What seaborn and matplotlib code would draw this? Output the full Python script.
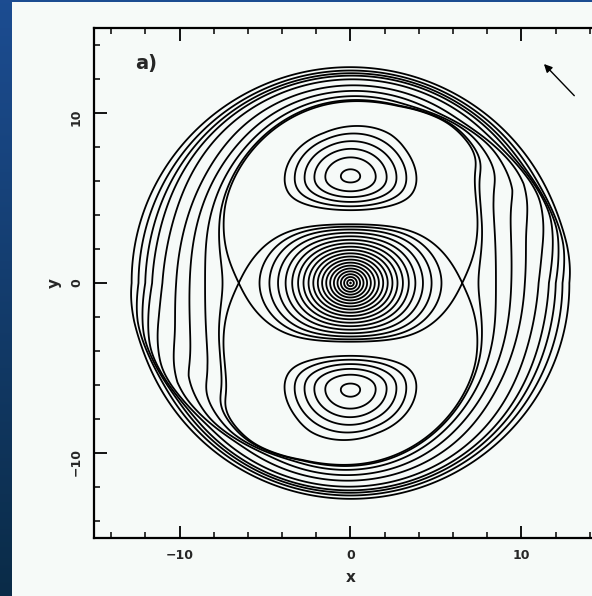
import numpy as np
import matplotlib
matplotlib.use("Agg")
import matplotlib.pyplot as plt
import seaborn as sns
from matplotlib.patches import Rectangle

# model of the plotted field (effective potential of a rotating bar)
corotation_radius = 6.6
inner_scale = 1.2
outer_scale = 1.75
bar_amplitude = 2.6
bar_core = 2.0
twist_radii = [8.5, 11.0]
twist_angle = -10.0
fade_radii = [10.5, 13.5]
fade_amount = 1.3
lobe_center = 6.1
lobe_height = 10.0
lobe_sigma = [2.4, 1.6, 2.0]   # along x, towards centre, away from centre

# dense spiral band (upper right, repeated lower left)
band_angles = [0, 10, 40, 75, 95]
band_radii = [13.0, 12.8, 11.8, 10.7, 10.4]
band_env_angles = [0, 30, 70, 100, 180]
band_env = [0, 1, 1, 0, 0]
band_step = 2.3
band_ramp = 1.5

# contour levels
lens_levels = [-30.0, -28.5, -27.0, -25.5, -24.0, -22.5, -21.0, -19.5, -18.0, -16.5,
               -15.0, -13.5, -12.0, -10.5, -9.0, -7.5, -6.0, -4.6, -3.4]
lobe_offsets = [0.3, 1.9, 3.6, 5.3, 7.0, 8.6]
outer_levels = [-12.26, -11.21, -10.36, -9.6, -8.46, -6.64, -5.04, -3.65, -2.69]

x_ticks = [-10, 0, 10]
y_ticks = [-10, 0, 10]
panel_label = "a)"
arrow_head = (11.2, 13.0)
arrow_tail = (13.2, 10.9)


def smooth(r, a, b):
    t = np.clip((r - a) / (b - a), 0, 1)
    return t * t * (3 - 2 * t)


def sigmoid(z):
    return 0.5 * (1 + np.tanh(z))


def field(x, y):
    r = np.hypot(x, y)
    th = np.arctan2(y, x)
    s = inner_scale + (outer_scale - inner_scale) * 0.5 * (1 + np.tanh((r - corotation_radius) / 0.6))
    f = -((r - corotation_radius) / s) ** 2
    amp = bar_amplitude * r**2 / (r**2 + bar_core**2) * (1 - fade_amount * smooth(r, *fade_radii))
    phi = np.deg2rad(twist_angle) * smooth(r, *twist_radii)
    d = np.abs(y) - lobe_center
    sy = np.where(d < 0, lobe_sigma[1], lobe_sigma[2])
    hill = lobe_height * np.exp(-0.5 * ((x / lobe_sigma[0]) ** 2 + (d / sy) ** 2))
    deg = np.rad2deg(np.mod(th, np.pi))
    rs = np.interp(deg, band_angles, band_radii)
    env = np.interp(deg, band_env_angles, band_env)
    band = band_step * env * (sigmoid((r - rs + band_ramp) / 1.0) - sigmoid((r - rs) / 0.15))
    return f - amp * np.cos(2 * (th - phi)) + hill + band


xs = np.linspace(-15, 15, 751)
X, Y = np.meshgrid(xs, xs)
R = np.hypot(X, Y)
Z = field(X, Y)

xr = np.linspace(4, 9, 2000)
sep_level = field(xr, 0 * xr).max()
peak = Z.max()
lobe_levels = [peak - o for o in lobe_offsets]

sns.set_style("ticks")
plt.rcParams["font.family"] = ["DejaVu Sans"]
plt.rcParams["contour.negative_linestyle"] = "solid"

fig = plt.figure(figsize=(5.92, 5.96), dpi=100)

# slide background
bg = fig.add_axes([0, 0, 1, 1], zorder=-2)
grad = np.linspace(0, 1, 256)[:, None]
blue = np.array([[0.11, 0.30, 0.57]]) * (1 - grad) + np.array([[0.04, 0.17, 0.28]]) * grad
bg.imshow(blue[:, None, :], aspect="auto", extent=[0, 1, 0, 1])
bg.axis("off")
fig.patches.append(Rectangle((12 / 592, 0), 1, 594 / 596, transform=fig.transFigure,
                             facecolor="#f6faf8", edgecolor="none", zorder=-1))

ax = fig.add_axes([94 / 592, 58 / 596, 513 / 592, 510 / 596])
ax.set_facecolor("#f6faf8")
line_kw = dict(colors="black", linewidths=1.3, linestyles="solid")
ax.contour(X, Y, np.ma.masked_where(R > corotation_radius, Z), levels=sorted(lens_levels), **line_kw)
ax.contour(X, Y, np.ma.masked_where(R < corotation_radius, Z), levels=sorted(outer_levels), **line_kw)
ax.contour(X, Y, Z, levels=sorted([sep_level] + lobe_levels), **line_kw)

ax.set_xlim(-15, 15)
ax.set_ylim(-15, 15)
ax.set_aspect("auto")
ax.set_xticks(x_ticks)
ax.set_yticks(y_ticks)
ax.set_xticks(np.arange(-14, 15, 2), minor=True)
ax.set_yticks(np.arange(-14, 15, 2), minor=True)
ax.tick_params(which="both", direction="in", top=True, right=True, color="black")
ax.tick_params(which="major", length=9, width=1.3)
ax.tick_params(which="minor", length=4.5, width=1.1)
ax.tick_params(axis="x", labelsize=9, pad=8)
ax.tick_params(axis="y", labelsize=9, pad=8, labelrotation=90)
for lab in ax.get_xticklabels() + ax.get_yticklabels():
    lab.set_fontweight("bold")
for side in ax.spines.values():
    side.set_linewidth(1.6)
    side.set_color("black")
ax.set_xlabel("x", fontsize=11, fontweight="bold", labelpad=6)
ax.set_ylabel("y", fontsize=11, fontweight="bold", labelpad=6)

ax.text(-12.6, 12.9, panel_label, fontsize=14, fontweight="bold", va="center")
ax.annotate("", xy=arrow_head, xytext=arrow_tail,
            arrowprops=dict(arrowstyle="-|>", color="black", lw=1.0, mutation_scale=12))

fig.savefig("out.png", dpi=100)
